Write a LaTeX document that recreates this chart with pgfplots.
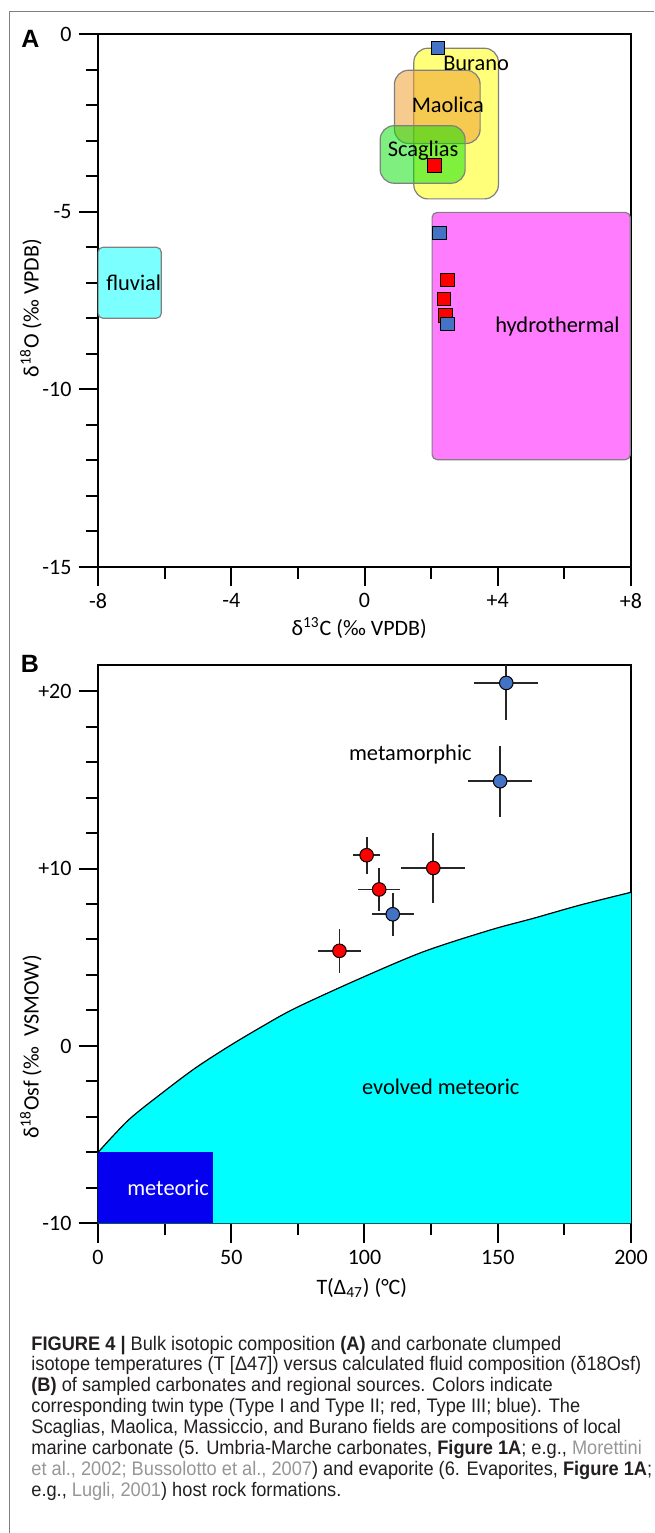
\documentclass[border=0pt]{standalone}
\usepackage{fontspec}
\setmainfont{Carlito}
\newfontfamily\capfont[FakeStretch=0.93]{Liberation Sans}
\newfontfamily\letterfont{Liberation Sans}
\usepackage{pgfplots}
\pgfplotsset{compat=1.18}
\usepackage{pgfplotstable}

\definecolor{typeblue}{RGB}{68,114,196}
\definecolor{typered}{RGB}{255,0,0}
\definecolor{buranoc}{RGB}{255,255,0}
\definecolor{maolicac}{RGB}{240,160,48}
\definecolor{scagliac}{RGB}{0,225,0}
\definecolor{hydroc}{RGB}{255,124,255}
\definecolor{fluvc}{RGB}{124,255,255}
\definecolor{emet}{RGB}{0,255,255}
\definecolor{met}{RGB}{5,0,240}
\definecolor{framec}{RGB}{128,128,128}
\definecolor{citegray}{RGB}{150,150,150}
\definecolor{capblack}{RGB}{35,31,32}

% fluid curve (panel B)
\pgfplotstableread{
T d
0 -6.0
11.4 -4.18
23.9 -2.67
36.4 -1.26
48.9 -0.04
61.4 1.08
73.9 2.12
97.1 3.72
122.1 5.31
147.1 6.53
163.3 7.19
180.9 7.94
200 8.66
}\curve

% clumped isotope samples: T, dT, d18Osf, dd
\pgfplotstableread{
T dT d dd
100.8 5 10.75 1.05
125.8 12 10.03 2
105.5 8 8.82 1.2
90.6 8 5.36 1.25
}\redB
\pgfplotstableread{
T dT d dd
153.2 12 20.46 2.1
150.9 12 14.92 2
110.6 7.8 7.42 1.2
}\blueB

\pgfplotsset{
  panel/.style={
    scale only axis, width=266.5pt,
    tick align=outside, xtick pos=left, ytick pos=left,
    major tick length=9.7pt, minor tick length=6pt,
    tick style={black, line width=1pt},
    minor tick style={black, line width=1pt},
    axis line style={line width=1pt},
    tick label style={font=\fontsize{11}{13}\selectfont},
    label style={font=\fontsize{11}{13}\selectfont},
  },
  field/.style={mark=none, draw=framec, line width=0.6pt, rounded corners=#1},
}

\begin{document}
\begin{tikzpicture}
\useasboundingbox (0,0) rectangle (327pt,-766.5pt);
\draw[framec, line width=0.5pt] (4.5pt,-766.5pt) -- (4.5pt,-5.5pt) -- (327pt,-5.5pt);

% ---------- panel A ----------
\begin{axis}[panel,
  at={(49pt,-283.5pt)}, anchor=south west, height=266.5pt,
  xmin=-8, xmax=8, ymin=-15, ymax=0,
  xtick={-8,-4,0,4,8}, xticklabels={-8,-4,0,+4,+8},
  minor xtick={-6,-2,2,6},
  ytick={0,-5,-10,-15}, yticklabels={0,-5,-10,-15},
  minor ytick={-1,-2,-3,-4,-6,-7,-8,-9,-11,-12,-13,-14},
  xlabel={δ\textsuperscript{13}C (‰ VPDB)},
  ylabel={δ\textsuperscript{18}O (‰ VPDB)},
  xlabel style={at={(axis description cs:0.49,-0.1144)}, anchor=center},
  ylabel style={at={(axis description cs:-0.126,0.486)}, anchor=center},
]
\addplot[field=2.5pt, fill=fluvc] coordinates {(-8,-6) (-6.1,-6) (-6.1,-8) (-8,-8)} -- cycle;
\addplot[field=2.5pt, fill=hydroc] coordinates {(2.03,-5.02) (7.98,-5.02) (7.98,-11.98) (2.03,-11.98)} -- cycle;
\addplot[field=7pt, fill=buranoc, fill opacity=0.52] coordinates {(1.48,-0.4) (4.02,-0.4) (4.02,-4.64) (1.48,-4.64)} -- cycle;
\addplot[field=7pt, fill=maolicac, fill opacity=0.55] coordinates {(0.9,-1.02) (3.47,-1.02) (3.47,-3.08) (0.9,-3.08)} -- cycle;
\addplot[field=7pt, fill=scagliac, fill opacity=0.5] coordinates {(0.47,-2.58) (3.02,-2.58) (3.02,-4.2) (0.47,-4.2)} -- cycle;

\node[font=\fontsize{11.2}{13}\selectfont] at (axis cs:3.35,-0.83) {Burano};
\node[font=\fontsize{11.2}{13}\selectfont] at (axis cs:2.5,-2.0) {Maolica};
\node[font=\fontsize{11.2}{13}\selectfont] at (axis cs:1.76,-3.27) {Scaglias};
\node[font=\fontsize{11.2}{13}\selectfont] at (axis cs:-6.93,-7.0) {fluvial};
\node[font=\fontsize{11.2}{13}\selectfont] at (axis cs:5.79,-8.24) {hydrothermal};

\addplot[only marks, mark=square*, mark size=3.3pt, mark options={fill=typered, draw=black, line width=0.5pt}]
  coordinates {(2.1,-3.7) (2.49,-6.93) (2.38,-7.45) (2.43,-7.92)};
\addplot[only marks, mark=square*, mark size=3.3pt, mark options={fill=typeblue, draw=black, line width=0.5pt}]
  coordinates {(2.2,-0.4) (2.25,-5.6) (2.49,-8.17)};
\end{axis}
\node[font=\letterfont\bfseries\fontsize{12.5}{14}\selectfont] at (15.2pt,-19.65pt) {A};

% ---------- panel B ----------
\begin{axis}[panel,
  at={(49pt,-611.67pt)}, anchor=south west, height=279.17pt,
  xmin=0, xmax=200, ymin=-10, ymax=21.47,
  xtick={0,50,100,150,200}, xticklabels={0,50,100,150,200},
  minor xtick={25,75,125,175},
  ytick={-10,0,10,20}, yticklabels={-10,0,+10,+20},
  minor ytick={-8,-6,-4,-2,2,4,6,8,12,14,16,18},
  xlabel={T(Δ\textsubscript{47}) (°C)},
  ylabel={δ\textsuperscript{18}Osf (‰\ \ VSMOW)},
  xlabel style={at={(axis description cs:0.495,-0.1158)}, anchor=center},
  ylabel style={at={(axis description cs:-0.126,0.316)}, anchor=center},
]
\addplot[fill=emet, draw=none, mark=none, smooth] table[x=T, y=d] {\curve}
  -- (axis cs:200,-10) -- (axis cs:0,-10) -- cycle;
\addplot[fill=met, draw=none, mark=none] coordinates {(0,-10) (43,-10) (43,-6) (0,-6)} -- cycle;
\addplot[black, line width=0.6pt, mark=none, smooth] table[x=T, y=d] {\curve};

\node[font=\fontsize{11.2}{13}\selectfont] at (axis cs:117.2,16.4) {metamorphic};
\node[font=\fontsize{11.2}{13}\selectfont] at (axis cs:128.6,-2.3) {evolved meteoric};
\node[font=\fontsize{11.2}{13}\selectfont, text=white] at (axis cs:26.3,-8.0) {meteoric};

\addplot[only marks, mark=*, mark size=3.4pt, mark options={fill=typered, draw=black, line width=0.5pt},
  error bars/.cd, x dir=both, x explicit, y dir=both, y explicit, error mark=none,
  error bar style={black!85, line width=0.9pt}]
  table[x=T, y=d, x error=dT, y error=dd] {\redB};
\addplot[only marks, mark=*, mark size=3.4pt, mark options={fill=typeblue, draw=black, line width=0.5pt},
  error bars/.cd, x dir=both, x explicit, y dir=both, y explicit, error mark=none,
  error bar style={black!85, line width=0.9pt}]
  table[x=T, y=d, x error=dT, y error=dd] {\blueB};
\end{axis}
\node[font=\letterfont\bfseries\fontsize{12.5}{14}\selectfont] at (15pt,-332pt) {B};

% ---------- caption ----------
\begin{scope}[every node/.style={anchor=base west, inner sep=0pt, text=capblack, font=\capfont\fontsize{9.8}{10.45}\selectfont}]
\node at (15.5pt,-675pt) {\textbf{FIGURE 4 |} Bulk isotopic composition \textbf{(A)} and carbonate clumped};
\node at (15.5pt,-685.45pt) {isotope temperatures (T [Δ47]) versus calculated fluid composition (δ18Osf)};
\node at (15.5pt,-695.9pt) {\textbf{(B)} of sampled carbonates and regional sources. Colors indicate};
\node at (15.5pt,-706.35pt) {corresponding twin type (Type I and Type II; red, Type III; blue). The};
\node at (15.5pt,-716.8pt) {Scaglias, Maolica, Massiccio, and Burano fields are compositions of local};
\node at (15.5pt,-727.25pt) {marine carbonate (5. Umbria-Marche carbonates, \textbf{Figure 1A}; e.g., \textcolor{citegray}{Morettini}};
\node at (15.5pt,-737.7pt) {\textcolor{citegray}{et al., 2002; Bussolotto et al., 2007}) and evaporite (6. Evaporites, \textbf{Figure 1A};};
\node at (15.5pt,-748.15pt) {e.g., \textcolor{citegray}{Lugli, 2001}) host rock formations.};
\end{scope}
\end{tikzpicture}
\end{document}
